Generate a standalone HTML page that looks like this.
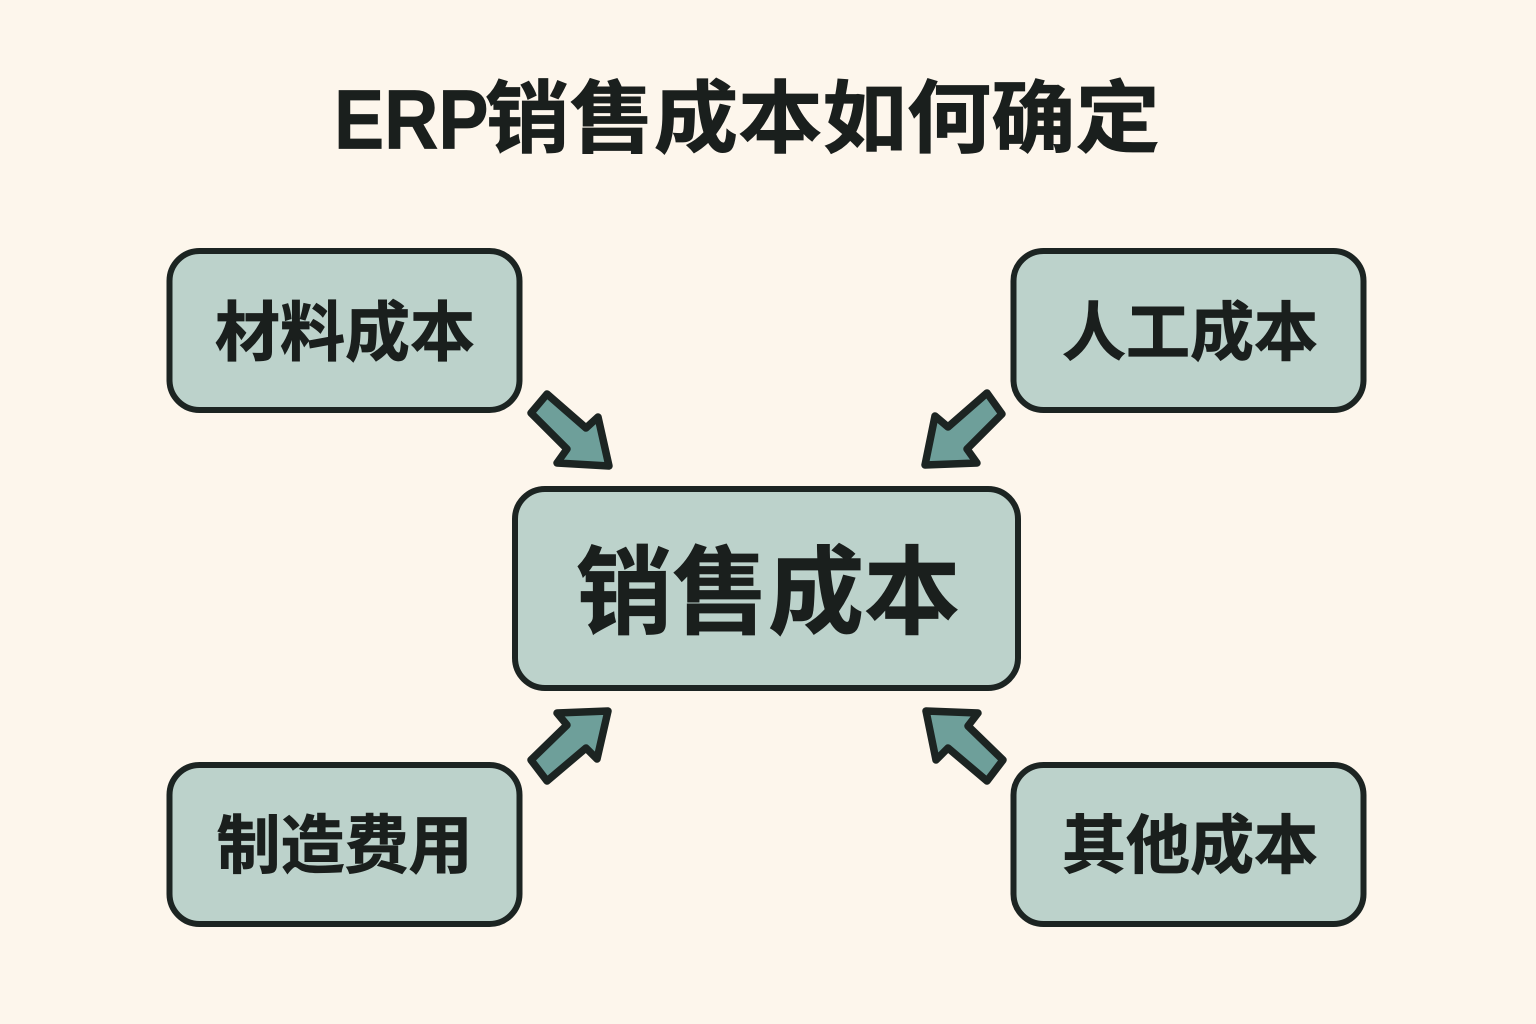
<!DOCTYPE html>
<html lang="zh">
<head>
<meta charset="utf-8">
<title>ERP销售成本如何确定</title>
<style>
html,body{margin:0;padding:0;background:#fdf6ec;width:1536px;height:1024px;overflow:hidden}
svg{display:block}
text{font-family:"Liberation Sans","Noto Sans CJK SC",sans-serif;font-weight:700;fill:#1a1f1d;stroke:#1a1f1d;stroke-width:.8;text-anchor:middle}
text.s{text-anchor:start}
.b{fill:#bcd2cb;stroke:#1c2422;stroke-width:6}
.a{fill:#6e9f9a;stroke:#1c2422;stroke-width:7.5;stroke-linejoin:round}
</style>
</head>
<body>
<svg width="1536" height="1024" viewBox="0 0 1536 1024" xmlns="http://www.w3.org/2000/svg">
<rect width="1536" height="1024" fill="#fdf6ec"/>
<text class="s" font-size="84" transform="translate(334,148.600) scale(.895,1)">ERP</text>
<text class="s" font-size="79" transform="translate(485,146) scale(1.068,1)">销售成本如何确定</text>

<rect class="b" x="169.500" y="251" width="350" height="159" rx="30"/>
<rect class="b" x="1013.500" y="251" width="350" height="159" rx="30"/>
<rect class="b" x="169.500" y="765" width="350" height="159" rx="30"/>
<rect class="b" x="1013.500" y="765" width="350" height="159" rx="30"/>
<rect class="b" x="515" y="489" width="503" height="199" rx="30"/>

<text x="345" y="355" font-size="65">材料成本</text>
<text x="1190" y="355" font-size="64">人工成本</text>
<text x="344.500" y="868" font-size="64">制造费用</text>
<text x="1190" y="868" font-size="64">其他成本</text>
<text x="768" y="626" font-size="96">销售成本</text>

<polygon class="a" points="547,394 586,428 598,417 609,466 557,463 567,449 531,413"/>
<polygon class="a" points="987,393 1002,414 967,449 977,463 925,465 935,416 948,427"/>
<polygon class="a" points="608,711 557,713 567,725 531,760 547,781 586,748 597,759"/>
<polygon class="a" points="926,711 978,713 968,726 1003,760 987,781 948,748 936,760"/>
</svg>
</body>
</html>
